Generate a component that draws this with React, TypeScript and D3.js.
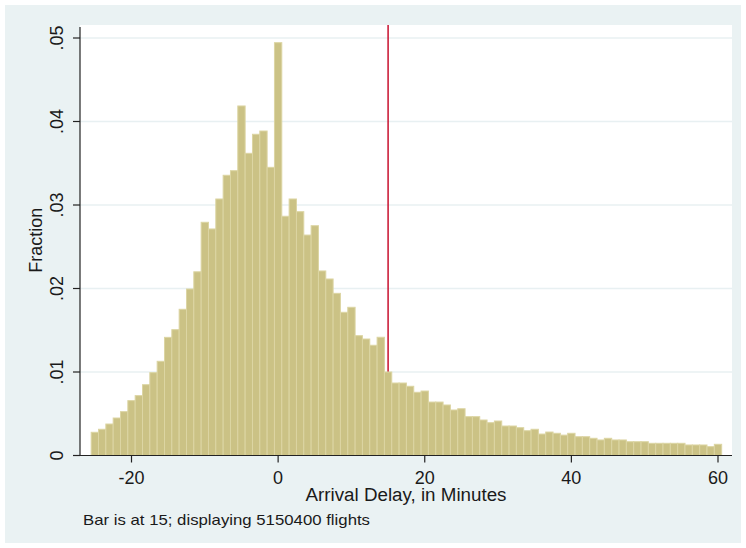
import React, { Component } from "react";
import * as d3 from "d3";

// arrival delay bins, one per minute, centred on the integer
const delayMinutes = d3.range(-25, 61);
const fractions = [
  0.00278, 0.00314, 0.00377, 0.00449, 0.00525, 0.00657, 0.00717, 0.00848, 0.00992, 0.01128,
  0.01415, 0.01507, 0.01751, 0.01994, 0.0220, 0.02793, 0.02713, 0.03072, 0.03356, 0.03411,
  0.04186, 0.03619, 0.03847, 0.03886, 0.03451, 0.04944, 0.02865, 0.03072, 0.0292, 0.0264,
  0.02752, 0.0221, 0.02114, 0.01942, 0.01715, 0.01775, 0.01435, 0.01395, 0.0132, 0.01416,
  0.0100, 0.00868, 0.00868, 0.00829, 0.00757, 0.00772, 0.0064, 0.0064, 0.00605, 0.00545,
  0.0056, 0.00465, 0.00465, 0.00425, 0.00393, 0.00413, 0.00353, 0.00353, 0.00333, 0.00297,
  0.00314, 0.00257, 0.00281, 0.00266, 0.00244, 0.00266, 0.00225, 0.00225, 0.00206, 0.00186,
  0.00206, 0.00186, 0.00186, 0.00165, 0.00165, 0.00165, 0.00146, 0.00146, 0.00146, 0.00146,
  0.00146, 0.00126, 0.00126, 0.00126, 0.00106, 0.00134,
];
const xTicks = [-20, 0, 20, 40, 60];
const yTicks = [0, 0.01, 0.02, 0.03, 0.04, 0.05];
const yTickLabels = ["0", ".01", ".02", ".03", ".04", ".05"];
const cutoff = 15;
const xTitle = "Arrival Delay, in Minutes";
const yTitle = "Fraction";
const note = "Bar is at 15; displaying 5150400 flights";

class App extends Component {
  componentDidMount() {
    this.draw();
  }

  draw() {
    var W = 746,
      H = 548;
    var plot = { left: 80, right: 732, top: 25, bottom: 455.5 };
    var font = "'Liberation Sans', Arial, sans-serif";

    var svg = d3.select(".hist_svg").attr("width", W).attr("height", H);

    var data = delayMinutes.map((d, i) => ({ minute: d, frac: fractions[i] }));

    const x_scale = d3.scaleLinear().domain([-20, 60]).range([131.5, 718]);
    const y_scale = d3.scaleLinear().domain([0, 0.05]).range([plot.bottom, 38]);

    svg.selectAll("*").remove();

    // outer graph region
    svg.append("rect").attr("width", W).attr("height", H).attr("fill", "#ffffff");
    svg
      .append("rect")
      .attr("x", 5)
      .attr("y", 5)
      .attr("width", W - 10)
      .attr("height", H - 10)
      .attr("fill", "#eaf2f3");
    svg
      .append("rect")
      .attr("x", plot.left)
      .attr("y", plot.top)
      .attr("width", plot.right - plot.left)
      .attr("height", plot.bottom - plot.top)
      .attr("fill", "#ffffff");

    // gridlines
    svg
      .selectAll(".grid")
      .data(yTicks.slice(1))
      .join("line")
      .attr("class", "grid")
      .attr("x1", plot.left)
      .attr("x2", plot.right)
      .attr("y1", (d) => y_scale(d))
      .attr("y2", (d) => y_scale(d))
      .attr("stroke", "#e8f0f2")
      .attr("stroke-width", 1.5);

    // reference line sits behind the bars, like Stata's xline
    svg
      .append("line")
      .attr("x1", x_scale(cutoff))
      .attr("x2", x_scale(cutoff))
      .attr("y1", plot.top)
      .attr("y2", plot.bottom)
      .attr("stroke", "#c8102e")
      .attr("stroke-width", 1.5);

    svg
      .selectAll(".bar")
      .data(data)
      .join("rect")
      .attr("class", "bar")
      .attr("x", (d) => x_scale(d.minute - 0.5))
      .attr("y", (d) => y_scale(d.frac))
      .attr("width", (d) => x_scale(d.minute + 0.5) - x_scale(d.minute - 0.5))
      .attr("height", (d) => y_scale(0) - y_scale(d.frac))
      .attr("fill", "#cbc285")
      .attr("stroke", "#dcd5a3")
      .attr("stroke-width", 1);

    // axes
    var axisColor = "#222";
    svg
      .append("line")
      .attr("x1", plot.left)
      .attr("x2", plot.left)
      .attr("y1", plot.top + 2)
      .attr("y2", plot.bottom)
      .attr("stroke", axisColor)
      .attr("stroke-width", 1.2);
    svg
      .append("line")
      .attr("x1", plot.left - 7)
      .attr("x2", plot.right)
      .attr("y1", plot.bottom)
      .attr("y2", plot.bottom)
      .attr("stroke", axisColor)
      .attr("stroke-width", 1.2);

    svg
      .selectAll(".ytick")
      .data(yTicks)
      .join("line")
      .attr("class", "ytick")
      .attr("x1", plot.left - 7)
      .attr("x2", plot.left)
      .attr("y1", (d) => y_scale(d))
      .attr("y2", (d) => y_scale(d))
      .attr("stroke", axisColor)
      .attr("stroke-width", 1.2);

    svg
      .selectAll(".ylab")
      .data(yTicks)
      .join("text")
      .attr("class", "ylab")
      .attr("transform", (d) => `translate(63, ${y_scale(d)}) rotate(-90)`)
      .attr("text-anchor", "middle")
      .style("font-family", font)
      .style("font-size", "18px")
      .attr("fill", "#1a1a1a")
      .text((d, i) => yTickLabels[i]);

    svg
      .selectAll(".xtick")
      .data(xTicks)
      .join("line")
      .attr("class", "xtick")
      .attr("x1", (d) => x_scale(d))
      .attr("x2", (d) => x_scale(d))
      .attr("y1", plot.bottom)
      .attr("y2", plot.bottom + 7)
      .attr("stroke", axisColor)
      .attr("stroke-width", 1.2);

    svg
      .selectAll(".xlab")
      .data(xTicks)
      .join("text")
      .attr("class", "xlab")
      .attr("x", (d) => x_scale(d))
      .attr("y", 484)
      .attr("text-anchor", "middle")
      .style("font-family", font)
      .style("font-size", "18px")
      .attr("fill", "#1a1a1a")
      .text((d) => d);

    svg
      .append("text")
      .attr("x", (plot.left + plot.right) / 2)
      .attr("y", 501)
      .attr("text-anchor", "middle")
      .attr("textLength", 201)
      .attr("lengthAdjust", "spacingAndGlyphs")
      .style("font-family", font)
      .style("font-size", "18px")
      .attr("fill", "#1a1a1a")
      .text(xTitle);

    svg
      .append("text")
      .attr("transform", `translate(42, ${(plot.top + plot.bottom) / 2}) rotate(-90)`)
      .attr("text-anchor", "middle")
      .style("font-family", font)
      .style("font-size", "18px")
      .attr("fill", "#1a1a1a")
      .text(yTitle);

    svg
      .append("text")
      .attr("x", 83)
      .attr("y", 525)
      .attr("textLength", 287)
      .attr("lengthAdjust", "spacingAndGlyphs")
      .style("font-family", font)
      .style("font-size", "15px")
      .attr("fill", "#1a1a1a")
      .text(note);
  }

  render() {
    return (
      <svg
        className="hist_svg"
        style={{ position: "absolute", left: 0, top: 0, display: "block" }}
      ></svg>
    );
  }
}

export default App;
